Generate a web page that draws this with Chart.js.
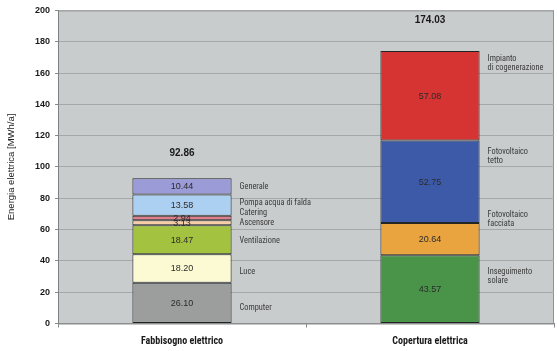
<!DOCTYPE html>
<html>
<head>
<meta charset="utf-8">
<script src="https://cdn.jsdelivr.net/npm/chart.js@4.4.0/dist/chart.umd.min.js"></script>
<style>
  html, body { margin: 0; padding: 0; background: #fff; }
  #wrap { width: 557px; height: 351px; }
</style>
</head>
<body>
<div id="wrap"><canvas id="energyChart"></canvas></div>
<script>
// data
const categories = ['Fabbisogno elettrico', 'Copertura elettrica'];
const demandNames = ['Computer', 'Luce', 'Ventilazione', 'Ascensore', 'Catering', 'Pompa acqua di falda', 'Generale'];
const demandValues = [26.10, 18.20, 18.47, 3.13, 2.94, 13.58, 10.44];
const supplyNames = ['Inseguimento\nsolare', 'Fotovoltaico\nfacciata', 'Fotovoltaico\ntetto', 'Impianto\ndi cogenerazione'];
const supplyValues = [43.57, 20.64, 52.75, 57.08];
const totals = [92.86, 174.03];
const yMin = 0, yMax = 200, yStep = 20;

const demandColors = ['#9c9e9e', '#fcfad2', '#a3c23f', '#f6cda6', '#dd7f8c', '#acd0f1', '#9b9bd7'];
const supplyColors = ['#4a944a', '#e9a33f', '#3c5aa8', '#d63333'];

const condensed = '"Roboto Condensed", "DejaVu Sans Condensed", sans-serif';
const plain = '"Liberation Sans", Arial, sans-serif';

// little vertical nudges (px) of the side labels, as in the original
const demandShift = [5, 4, 1, 0, -5, -2, 1];
const supplyShift = [-13, -20, -25, -32];
const totalGap = [25, 31];

const datasets = [];
demandValues.forEach((v, i) => {
    datasets.push({
        label: demandNames[i],
        data: [v, null],
        backgroundColor: demandColors[i],
        side: 0, shift: demandShift[i]
    });
});
supplyValues.forEach((v, i) => {
    datasets.push({
        label: supplyNames[i],
        data: [null, v],
        backgroundColor: supplyColors[i],
        side: 1, shift: supplyShift[i]
    });
});
datasets.forEach(d => {
    d.stack = 'a';
    d.borderColor = '#222424';
    d.borderWidth = 1;
    d.borderSkipped = false;
    d.barPercentage = 0.4;
    d.categoryPercentage = 1.0;
});

const plotBg = {
    id: 'plotBg',
    beforeDraw(chart) {
        const { ctx, chartArea: a } = chart;
        ctx.save();
        ctx.fillStyle = '#c9cccc';
        ctx.fillRect(a.left, a.top, a.right - a.left, a.bottom - a.top);
        ctx.strokeStyle = '#8e9292';
        ctx.lineWidth = 1;
        ctx.strokeRect(a.left + 0.5, a.top + 0.5, a.right - a.left - 1, a.bottom - a.top);
        ctx.restore();
    }
};

const segLabels = {
    id: 'segLabels',
    afterDatasetsDraw(chart) {
        const ctx = chart.ctx;
        ctx.save();
        const tops = [null, null];
        chart.data.datasets.forEach((ds, di) => {
            const el = chart.getDatasetMeta(di).data[ds.side];
            if (!el) return;
            const v = ds.data[ds.side];
            const mid = (el.y + el.base) / 2;
            tops[ds.side] = tops[ds.side] === null ? el.y : Math.min(tops[ds.side], el.y);

            ctx.fillStyle = '#2b2b2b';
            ctx.font = '9px ' + plain;
            ctx.textAlign = 'center';
            ctx.textBaseline = 'middle';
            ctx.fillText(v.toFixed(2), el.x, mid + 0.5);

            ctx.fillStyle = '#3a3a3a';
            ctx.font = '8.3px ' + condensed;
            ctx.textAlign = 'left';
            const lines = ds.label.split('\n');
            const lh = 9;
            const x = el.x + el.width / 2 + 8;
            const y0 = mid + ds.shift - (lines.length - 1) * lh / 2;
            lines.forEach((ln, k) => ctx.fillText(ln, x, y0 + k * lh));
        });
        ctx.fillStyle = '#1a1a1a';
        ctx.font = 'bold 10px ' + plain;
        ctx.textAlign = 'center';
        const xs = chart.scales.x;
        totals.forEach((t, i) => {
            ctx.fillText(t.toFixed(2), xs.getPixelForValue(i), tops[i] - totalGap[i]);
        });
        ctx.restore();
    }
};

new Chart(document.getElementById('energyChart'), {
    type: 'bar',
    data: { labels: categories, datasets: datasets },
    plugins: [plotBg, segLabels],
    options: {
        responsive: true,
        maintainAspectRatio: false,
        animation: false,
        layout: { padding: { top: 6, right: 3, left: 0, bottom: 0 } },
        plugins: {
            legend: { display: false },
            tooltip: { enabled: false }
        },
        scales: {
            x: {
                stacked: true,
                afterFit(scale) { scale.height = 27.5; },
                grid: {
                    display: true,
                    drawOnChartArea: false,
                    drawTicks: true,
                    tickLength: 4,
                    color: '#8a8a8a'
                },
                border: { color: '#8a8e8e' },
                ticks: {
                    padding: 8,
                    color: '#1a1a1a',
                    font: { family: condensed, size: 10, weight: 'bold' }
                }
            },
            y: {
                stacked: true,
                min: yMin,
                max: yMax,
                afterFit(scale) { scale.width = 58; },
                ticks: {
                    stepSize: yStep,
                    padding: 5,
                    color: '#1a1a1a',
                    font: { family: plain, size: 9, weight: 'bold' }
                },
                grid: {
                    color: '#a4a8a8',
                    tickLength: 3,
                    tickColor: '#8a8a8a'
                },
                border: { color: '#7f8282' },
                title: {
                    display: true,
                    text: 'Energia elettrica [MWh/a]',
                    color: '#222',
                    padding: { top: 6, bottom: 0 },
                    font: { family: plain, size: 9.5 }
                }
            }
        }
    }
});
</script>
</body>
</html>
